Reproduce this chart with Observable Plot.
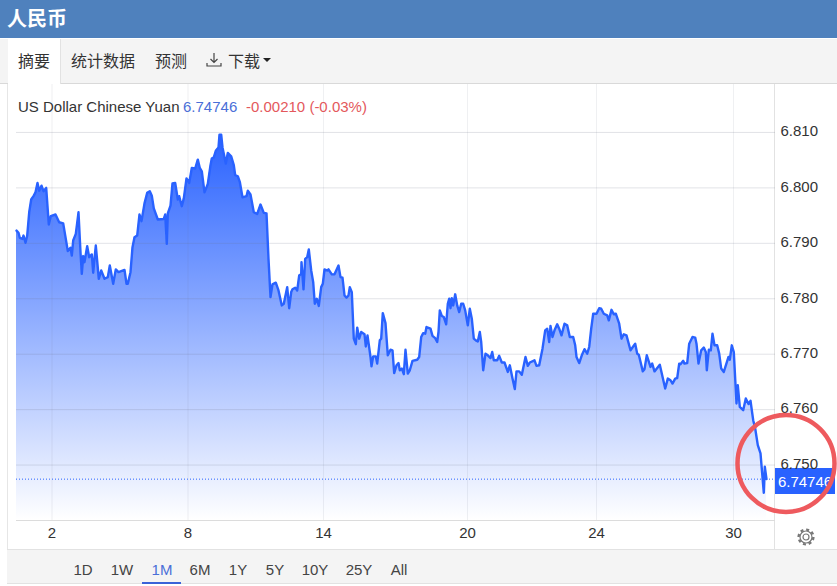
<!DOCTYPE html>
<html>
<head>
<meta charset="utf-8">
<script src="https://cdn.jsdelivr.net/npm/d3@7"></script>
<script src="https://cdn.jsdelivr.net/npm/@observablehq/plot@0.6"></script>
<style>
html,body{margin:0;padding:0;background:#fff;width:837px;height:586px;overflow:hidden;font-family:"Liberation Sans",Arial,sans-serif;color:#333}
.a{position:absolute;white-space:nowrap}
.cjk{font-family:"Noto Sans CJK SC","Noto Sans",sans-serif}
</style>
</head>
<body>
<div class="a" style="left:0;top:0;width:837px;height:38px;background:#4f81bd"></div>
<div class="a cjk" style="left:7px;top:4px;font-size:20px;line-height:28px;font-weight:700;color:#fff">人民币</div>
<div class="a" style="left:0;top:39px;width:837px;height:44px;background:#f4f4f4;border-bottom:1px solid #d9d9d9"></div>
<div class="a" style="left:8px;top:39px;width:52px;height:45px;background:#fff;border-right:1px solid #e2e2e2"></div>
<div class="a cjk" style="left:18px;top:49px;font-size:16px;line-height:22px">摘要</div>
<div class="a cjk" style="left:71px;top:49px;font-size:16px;line-height:22px">统计数据</div>
<div class="a cjk" style="left:155px;top:49px;font-size:16px;line-height:22px">预测</div>
<div class="a cjk" style="left:228px;top:49px;font-size:16px;line-height:22px">下载</div>
<svg class="a" style="left:205px;top:51px" width="18" height="18" viewBox="0 0 18 18" fill="none" stroke="#444" stroke-width="1.2"><path d="M9 2v9M5.5 8 9 11.5 12.5 8M2 12v3h14v-3"/></svg>
<svg class="a" style="left:262px;top:57px" width="10" height="6"><path d="M1 1h8L5 5z" fill="#222"/></svg>
<div class="a" style="left:7px;top:84px;width:1px;height:465px;background:#e6e6e6"></div>
<div class="a" style="left:774px;top:84px;width:1px;height:465px;background:#e2e2e2"></div>
<div class="a" style="left:18px;top:98px;font-size:15px;line-height:18px;color:#333">US Dollar Chinese Yuan</div>
<div class="a" style="left:183px;top:98px;font-size:15px;line-height:18px;color:#4a6fd8">6.74746</div>
<div class="a" style="left:246px;top:98px;font-size:15px;line-height:18px;color:#e4585c">-0.00210 (-0.03%)</div>
<div class="a" style="left:775px;top:468px;width:60px;height:26px;background:#2962ff;color:#fff;font-size:15px;line-height:27px;text-align:center">6.74746</div>
<svg class="a" style="left:796px;top:527px" width="20" height="20" viewBox="0 0 20 20" fill="none" stroke="#777"><circle cx="10" cy="10" r="3" stroke-width="1.2"/><circle cx="10" cy="10" r="6" stroke-width="1.2"/><circle cx="10" cy="10" r="7.4" stroke-width="2.4" stroke-dasharray="3 2.8"/></svg>
<div class="a" style="left:7px;top:549px;width:830px;height:35px;background:#f4f4f4;border-top:1px solid #e2e2e2;border-bottom:1px solid #e2e2e2;box-sizing:border-box"></div>
<div class="a" style="left:142px;top:582px;width:39px;height:2px;background:#3a62d8"></div>
<div id="ranges"></div>
<div id="chart"></div>
<script>
const tickIndex = [35.5, 171.5, 307, 451, 580, 717];
const tickDays = ["2", "8", "14", "20", "24", "30"];
const yTicks = [6.75, 6.76, 6.77, 6.78, 6.79, 6.80, 6.81];
const lastRate = 6.74746;
const ranges = ["1D", "1W", "1M", "6M", "1Y", "5Y", "10Y", "25Y", "All"];
const rangeCentres = [83, 122, 162, 200, 238, 275, 315, 359, 399];
const ringCentre = [{session: 769.5, rate: 6.7503}];

const session = [
0,2,3.3,6,7,9,10.7,12.7,14.7,17.3,19,21,22.7,25,27,29.7,32.3,34.3,39,42.7,46.7,49.3,51.3,54,55.3,56.7,59.3,62,64,65.3,
66.7,68,70.7,72.7,75.3,76.7,79.3,82.3,84.7,88,91.3,93.3,96.7,99.3,102,108,110,111.3,114,116,118,120.7,123,125,128,130.7,133.3,135.3,137.3,141.3,
147.3,148.7,150.3,151.3,154,156,158.7,161.3,162.7,165.3,167.3,170,172.7,175.3,178.7,181.3,183.3,185.3,188,191.3,194,195.3,197.3,199.3,202,203,204.7,206,209.3,211.3,
214.7,217.3,218.7,221.3,223.3,226,230,231.3,234,237.3,240.7,244,247.3,250,252,254,256,259.3,262,265.3,267.3,270.7,272.7,274.7,276,278.7,280.7,282.7,284.7,285,
287,288.7,290.7,292.3,294.7,296.7,298.3,300.3,302.3,304.7,306.3,308,310.7,312,315.3,318,322,324,326,328,330,332,333.3,335.3,337.3,339.3,340.7,342.7,344.7,348,
349.3,351,354,355,356.7,359.3,360.7,363.3,364.7,366.3,369,371.3,374,376,377.7,380,382,383.3,385.3,387.3,389,391.3,393.3,396,400.7,402.7,404.7,406.7,408.7,410,
414,416,418.7,420.7,422,423.3,425.3,427.3,429.7,431.3,432.7,434,435.3,436.7,438.7,440.7,442.7,444.7,446.7,448.7,451.3,453.3,455.3,457.3,459.3,461.3,463.3,464.7,466.7,469,
471.3,474,475.7,477.3,480.7,482.7,485.3,488,491.3,493.3,496,498.3,500,502.7,505.3,507.3,509,511.3,513.3,518,520,522.7,526,528.7,530.7,532.7,534,536,538,540.7,
542.7,545,548,550.7,553.3,556.7,558.7,560,562.7,565.3,568,570.7,572.7,574.7,576.7,580,582.7,584.7,587.3,590.7,592.3,595,597.3,599.3,602.7,605,607.3,610,614,618.7,
620.7,622.3,626.3,628,630.3,634,635.7,638,643.3,648.7,651.3,654,656,658.7,660.7,662.7,664,666.7,668,670.7,672.7,676,678.7,680,682,684.7,687.3,689.3,690.3,692.3,
694.3,696,698,700.7,702.7,704.7,707.3,712,713.3,715.3,717.3,720,721.3,723.3,726.7,729.3,732,734,736.7,738.7,741.3,744,747.3,748.3,750
];
const rate = [
6.7923,6.7919,6.7910,6.7908,6.7914,6.7901,6.7914,6.7956,6.7979,6.7986,6.7992,6.8009,6.7995,6.8004,6.7994,6.8000,6.7934,6.7949,6.7952,6.7938,6.7936,6.7908,6.7886,6.7892,6.7878,6.7905,6.7917,6.7956,6.7884,6.7845,
6.7877,6.7866,6.7895,6.7875,6.7880,6.7847,6.7896,6.7836,6.7851,6.7836,6.7839,6.7860,6.7827,6.7853,6.7848,6.7852,6.7827,6.7827,6.7848,6.7893,6.7911,6.7914,6.7952,6.7940,6.7972,6.7991,6.7994,6.7986,6.7963,6.7943,
6.7944,6.7952,6.7899,6.7954,6.7968,6.8008,6.8009,6.7979,6.7985,6.7967,6.7981,6.8017,6.8009,6.8036,6.8035,6.8051,6.8036,6.8030,6.7992,6.8007,6.8041,6.8053,6.8055,6.8067,6.8073,6.8096,6.8096,6.8073,6.8044,6.8063,
6.8057,6.8041,6.8023,6.8021,6.8011,6.7983,6.7985,6.7995,6.7988,6.7956,6.7953,6.7970,6.7955,6.7954,6.7872,6.7803,6.7826,6.7829,6.7815,6.7788,6.7791,6.7821,6.7783,6.7812,6.7817,6.7820,6.7815,6.7842,6.7845,6.7866,
6.7817,6.7872,6.7875,6.7889,6.7851,6.7830,6.7791,6.7800,6.7787,6.7821,6.7827,6.7853,6.7851,6.7853,6.7844,6.7844,6.7860,6.7839,6.7838,6.7806,6.7802,6.7806,6.7821,6.7812,6.7728,6.7718,6.7748,6.7728,6.7740,6.7736,
6.7714,6.7734,6.7695,6.7678,6.7696,6.7696,6.7683,6.7725,6.7728,6.7774,6.7756,6.7698,6.7708,6.7707,6.7666,6.7680,6.7684,6.7671,6.7674,6.7664,6.7708,6.7665,6.7671,6.7688,6.7690,6.7695,6.7731,6.7738,6.7737,6.7749,
6.7746,6.7733,6.7729,6.7722,6.7740,6.7779,6.7769,6.7767,6.7754,6.7791,6.7800,6.7783,6.7801,6.7788,6.7808,6.7788,6.7776,6.7791,6.7791,6.7779,6.7752,6.7782,6.7764,6.7728,6.7725,6.7723,6.7740,6.7722,6.7671,6.7701,
6.7698,6.7693,6.7704,6.7689,6.7689,6.7697,6.7685,6.7685,6.7668,6.7680,6.7656,6.7637,6.7669,6.7669,6.7663,6.7680,6.7695,6.7679,6.7685,6.7689,6.7679,6.7680,6.7710,6.7743,6.7746,6.7722,6.7751,6.7731,6.7743,6.7754,
6.7746,6.7734,6.7755,6.7752,6.7731,6.7731,6.7716,6.7695,6.7684,6.7698,6.7709,6.7701,6.7713,6.7746,6.7773,6.7773,6.7783,6.7782,6.7773,6.7770,6.7761,6.7780,6.7772,6.7773,6.7755,6.7728,6.7736,6.7734,6.7707,6.7719,
6.7701,6.7699,6.7669,6.7673,6.7698,6.7677,6.7683,6.7669,6.7681,6.7638,6.7656,6.7653,6.7647,6.7656,6.7657,6.7683,6.7682,6.7688,6.7683,6.7684,6.7719,6.7731,6.7730,6.7719,6.7683,6.7707,6.7712,6.7704,6.7671,6.7708,
6.7707,6.7737,6.7716,6.7716,6.7701,6.7674,6.7668,6.7695,6.7690,6.7716,6.7704,6.7611,6.7644,6.7605,6.7599,6.7620,6.7610,6.7616,6.7581,6.7566,6.7536,6.7521,6.7450,6.7497,6.74746
];
const data = session.map((s, i) => ({session: s, rate: rate[i]}));

const host = document.getElementById("ranges");
ranges.forEach((t, i) => {
  const d = document.createElement("div");
  d.className = "a";
  d.textContent = t;
  d.style.cssText = `left:${rangeCentres[i] - 30}px;width:60px;text-align:center;top:561px;font-size:15px;line-height:18px;color:${t === "1M" ? "#4a6fd8" : "#444"}`;
  host.appendChild(d);
});

const gradient = () => {
  const svgNS = "http://www.w3.org/2000/svg";
  const defs = document.createElementNS(svgNS, "defs");
  const g = document.createElementNS(svgNS, "linearGradient");
  g.setAttribute("id", "fillGrad");
  g.setAttribute("x1", "0"); g.setAttribute("y1", "0");
  g.setAttribute("x2", "0"); g.setAttribute("y2", "1");
  [["0%", "#2962ff"], ["100%", "#ffffff"]].forEach(([o, c]) => {
    const s = document.createElementNS(svgNS, "stop");
    s.setAttribute("offset", o); s.setAttribute("stop-color", c);
    g.appendChild(s);
  });
  defs.appendChild(g);
  return defs;
};

const chart = Plot.plot({
  width: 837,
  height: 586,
  marginLeft: 16,
  marginRight: 62,
  marginTop: 84,
  marginBottom: 66,
  style: {background: "transparent", fontFamily: "'Liberation Sans',Arial,sans-serif", color: "#333", position: "absolute", left: "0", top: "0"},
  x: {domain: [0, 759], axis: null},
  y: {domain: [6.74, 6.81865], axis: null},
  marks: [
    gradient,
    Plot.areaY(data, {x: "session", y1: () => 6.74, y2: "rate", fill: "url(#fillGrad)"}),
    Plot.ruleY(yTicks, {stroke: "#6e7386", strokeOpacity: 0.2}),
    Plot.ruleX(tickIndex, {stroke: "#6e7386", strokeOpacity: 0.11}),
    Plot.ruleY([6.74], {stroke: "#dcdcdc"}),
    Plot.ruleY([lastRate], {stroke: "#2962ff", strokeDasharray: "1 2"}),
    Plot.lineY(data, {x: "session", y: "rate", stroke: "#2962ff", strokeWidth: 2.4, strokeLinejoin: "round"}),
    Plot.axisY({ticks: yTicks, anchor: "right", tickSize: 0, tickPadding: 5, tickFormat: d3.format(".3f"), fontSize: 15, dy: -1, label: null}),
    Plot.axisX({ticks: tickIndex, tickFormat: (d) => tickDays[tickIndex.indexOf(d)], tickSize: 0, tickPadding: 7, fontSize: 15, label: null}),
    Plot.dot(ringCentre, {x: "session", y: "rate", r: 48.5, stroke: "#ee5a5e", strokeWidth: 4.5, fill: "none"})
  ]
});
document.getElementById("chart").appendChild(chart);
</script>
</body>
</html>
